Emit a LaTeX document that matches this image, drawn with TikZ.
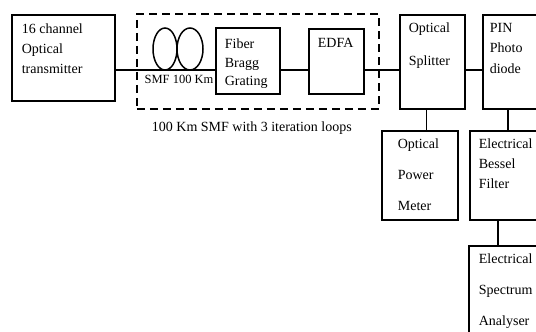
\documentclass[tikz,border=0pt]{standalone}
\usepackage{fontspec}
\setmainfont{Liberation Serif}
\usetikzlibrary{positioning,shapes.geometric}

\begin{document}
\begin{tikzpicture}[
    x=1pt, y=-1pt, line width=1.7pt,
    box/.style={draw,rectangle,anchor=north west,inner sep=0pt},
    lbl/.style={align=left,inner sep=0pt,font={\fontsize{14}{20}\selectfont}},
    lblwide/.style={lbl,font={\fontsize{14}{31}\selectfont}},
    coil/.style={draw,ellipse,inner sep=0pt,line width=1.5pt},
    link/.style={line width=1.5pt},
    loopbox/.style={draw,dash pattern=on 8pt off 5pt,line width=1.7pt}
]
\useasboundingbox (0,0) rectangle (536,332);
\clip (0,0) rectangle (536,332);
\coordinate (bus) at (0,70);

% dashed frame round the repeated span
\node[loopbox,anchor=north west,minimum width=242pt,minimum height=95pt,inner sep=0pt]
    (span) at (136,13) {};
\node[font={\fontsize{14}{20}\selectfont},anchor=north] (spantitle) at (span.south) [xshift=-6pt,yshift=-8pt]
    {100 Km SMF with 3 iteration loops};

\node[box,minimum width=103pt,minimum height=86pt] (tx) at (11,14) {};
\node[lbl,below right=9pt and 10pt of tx.north west] (txtext)
    {16 channel\\Optical\\transmitter};

\node[coil,minimum width=24pt,minimum height=42pt] (coilA) at (165,49) {};
\node[coil,minimum width=26pt,minimum height=42pt] (coilB) at (190,49) {};
\node[font={\fontsize{12.5}{14}\selectfont},inner sep=0pt] (smf) at (179,79) {SMF 100 Km};

\node[box,minimum width=64pt,minimum height=66pt] (fbg) at (215,27) {};
\node[lbl,font={\fontsize{14}{18.5}\selectfont},below right=11pt and 9pt of fbg.north west] (fbgtext)
    {Fiber\\Bragg\\Grating};

\node[box,minimum width=55pt,minimum height=65pt] (edfa) at (308,28) {};
\node[lbl,below right=9pt and 9pt of edfa.north west] (edfatext) {EDFA};

\node[box,minimum width=65pt,minimum height=94pt] (spl) at (399,14) {};
\node[lbl,font={\fontsize{14}{33}\selectfont},below right=8pt and 9pt of spl.north west] (spltext)
    {Optical\\Splitter};

\node[box,minimum width=54pt,minimum height=94pt] (pin) at (482,14) {};
\node[lbl,font={\fontsize{14}{20.5}\selectfont},below right=8pt and 7pt of pin.north west] (pintext)
    {PIN\\Photo\\diode};

\node[box,minimum width=76pt,minimum height=89pt] (opm) at (381,130) {};
\node[lblwide,below right=8pt and 16pt of opm.north west] (opmtext)
    {Optical\\Power\\Meter};

\node[box,minimum width=80pt,minimum height=89pt] (ebf) at (469,130) {};
\node[lbl,below right=8pt and 9pt of ebf.north west] (ebftext)
    {Electrical\\Bessel\\Filter};

\node[box,minimum width=80pt,minimum height=100pt] (esa) at (468,245) {};
\node[lblwide,below right=8pt and 10pt of esa.north west] (esatext)
    {Electrical\\Spectrum\\Analyser};

% signal path
\draw[link] (tx.east |- bus) -- (fbg.west |- bus);
\draw[link] (fbg.east |- bus) -- (edfa.west |- bus);
\draw[link] (edfa.east |- bus) -- (spl.west |- bus);
\draw[link] (spl.east |- bus) -- (pin.west |- bus);
\draw[link] ([xshift=-6pt]spl.south) -- ([xshift=-6pt]spl.south |- opm.north);
\draw[link] ([xshift=-2pt]pin.south) -- ([xshift=-2pt]pin.south |- ebf.north);
\draw[link] ([xshift=29pt]ebf.south west) -- ([xshift=29pt]ebf.south west |- esa.north);
\end{tikzpicture}
\end{document}
